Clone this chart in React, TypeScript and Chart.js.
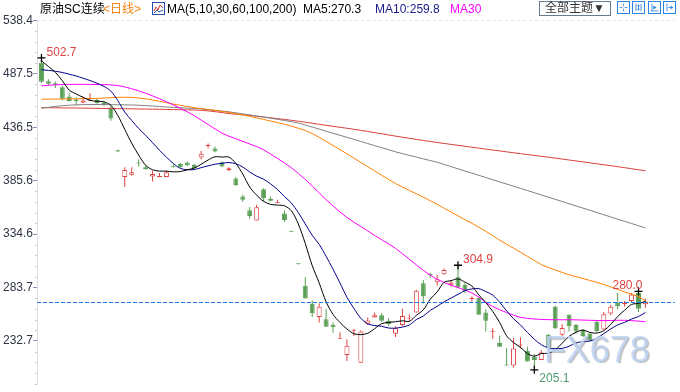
import React, { useEffect, useRef } from 'react';
import { Chart, registerables } from 'chart.js';

Chart.register(...registerables);

// ---- data ----
const opens = [498, 480.5, 478.5, 474.6, 466, 463, 460, 461.8, 462.5, 460,
  455.3, 414.5, 389, 391.3, 403, 398.5, 389.5, 389, 389, 398.6,
  401.5, 403, 400.5, 407.6, 418.6, 416.3, 403.2, 395.5, 387.6, 370.5,
  357.4, 347.7, 377.3, 368.4, 364, 354.3, 337.2, 306.3, 285.3, 268.2,
  255.5, 253.5, 248.2, 234.8, 219.2, 242.5, 212, 249, 255.1, 257.3,
  252, 239.5, 247.9, 254.2, 259.8, 287.8, 296, 288.8, 296.3, 286.3,
  293.5, 286.3, 272.7, 273.8, 259.8, 241.5, 230.8, 209.6, 209.3, 228.4,
  223.3, 217.7, 214.5, 238.6, 265.4, 238.6, 257.6, 247.9, 243.2, 239.5,
  251.1, 243.5, 258.8, 269.1, 268, 270.7, 278.5, 267.6];
const highs = [502.7, 482.4, 480.2, 476.2, 469, 465.2, 466, 469, 463.5, 461,
  456.5, 415, 398.3, 398.3, 406, 400, 395, 393, 395, 401.3,
  402.5, 404, 401.5, 413.8, 421, 418.2, 404.1, 398.5, 389.2, 372.1,
  360.5, 362.7, 378.3, 370.5, 367.4, 357.4, 337.5, 306.6, 293.5, 271.3,
  268.5, 263, 250.4, 241, 234.2, 244.2, 242.6, 255.1, 259.8, 259.1,
  254.4, 246.7, 263.5, 258.2, 281.6, 290.9, 297.8, 295.6, 301.8, 290.9,
  304.9, 287.8, 275.3, 274, 262.9, 244.8, 238, 226, 235.4, 236.3,
  227.1, 220.5, 223.9, 239.5, 266.6, 248.8, 258.2, 248.8, 244.2, 240.4,
  252.6, 260.4, 266.9, 278.5, 270.7, 278.5, 280, 272.9];
const lows = [478.7, 476.2, 474, 462.1, 461, 457.5, 460, 461.5, 459, 456.5,
  442.8, 413, 379.5, 390.4, 399.2, 396, 384.8, 388.8, 388.9, 398.2,
  398, 399.6, 397, 406, 416.6, 412.6, 398.5, 394.5, 380.8, 365.2,
  349.3, 347.5, 365.8, 365.8, 364, 346.1, 336.5, 305.6, 273, 255.5,
  250.4, 246, 240.4, 234.6, 213.6, 237.3, 212, 247.9, 255, 251.1,
  246.7, 236.4, 246.7, 251.9, 259.6, 268.5, 292.5, 285.6, 296, 284.6,
  283.5, 278.5, 270.1, 257.6, 241.7, 234.8, 227, 209, 207.4, 225.4,
  213, 205.1, 214.3, 225.5, 244.2, 237.3, 241.7, 239.5, 236.4, 232.6,
  241.1, 243.3, 257.3, 262.9, 265.4, 269.7, 260.4, 264.4];
const closes = [480, 478, 477, 463.7, 461.5, 461.5, 462, 462.3, 459.6, 458.5,
  445, 413.5, 395.7, 393.6, 402, 396.7, 392, 389.3, 393.6, 398.3,
  398.3, 400.4, 397.6, 411.3, 419, 413.5, 399.2, 397.5, 381.4, 367.4,
  351.8, 360.2, 368.9, 366.5, 364.3, 348, 336.8, 305.9, 273.2, 259.1,
  265.4, 246.3, 245.8, 235, 228, 242.8, 241.7, 252.3, 257.3, 252,
  248.8, 244.8, 256.6, 254.6, 280.5, 275.3, 295.5, 291.5, 300.3, 288.4,
  283.7, 280.1, 273.1, 257.6, 252, 241.9, 227.1, 209.3, 225.4, 228.8,
  213, 214.5, 221.7, 226.5, 244.8, 245.1, 246.7, 241.7, 237.3, 233.2,
  242.1, 258.2, 265.4, 265.9, 268.4, 276.9, 263.5, 270.3];

const ma5 = [500.0, 494.5, 489.0, 481.0, 472.0, 468.3, 465.1, 462.2, 461.4, 460.8,
  457.5, 447.8, 434.5, 421.3, 410.0, 400.3, 396.0, 394.7, 394.7, 394.0,
  394.3, 396.0, 397.6, 401.2, 405.3, 408.4, 408.1, 408.1, 402.1, 391.8,
  379.5, 371.7, 365.9, 363.0, 362.3, 361.6, 356.9, 344.3, 325.6, 304.6,
  288.1, 270.0, 258.0, 250.3, 244.1, 239.6, 238.7, 240.0, 244.4, 249.2,
  250.4, 251.0, 251.9, 251.4, 257.1, 262.4, 272.5, 279.5, 288.6, 290.2,
  291.9, 288.8, 285.1, 276.6, 269.3, 260.9, 250.3, 237.6, 231.1, 226.5,
  220.7, 218.2, 220.7, 220.9, 224.1, 230.5, 237.0, 241.0, 243.1, 240.8,
  240.2, 242.5, 248.5, 256.0, 262.0, 267.5, 268.5, 270.3];
const ma10 = [491.4, 490.8, 490.0, 488.8, 487.2, 485.5, 483.3, 481.1, 478.5, 475.5,
  471.0, 462.0, 451.0, 443.0, 435.4, 428.9, 421.9, 414.6, 408.0, 402.0,
  397.3, 396.0, 396.2, 398.0, 399.7, 401.3, 402.1, 402.9, 401.7, 398.6,
  393.9, 389.9, 387.0, 382.5, 377.1, 370.5, 364.3, 355.1, 344.3, 333.5,
  324.8, 313.4, 301.1, 288.0, 274.4, 263.8, 254.3, 249.0, 247.4, 246.7,
  245.0, 244.9, 245.9, 247.9, 253.1, 256.4, 261.8, 265.7, 270.0, 273.6,
  277.1, 280.7, 282.3, 282.6, 279.8, 276.4, 269.6, 261.4, 253.9, 247.9,
  240.8, 234.3, 229.1, 226.0, 225.3, 225.6, 227.6, 230.8, 232.0, 232.5,
  235.4, 239.7, 244.1, 248.0, 250.4, 253.6, 256.0, 259.8];
const ma30 = [476.0, 476.6, 477.0, 477.3, 477.4, 477.5, 477.5, 477.4, 477.3, 477.2,
  477.0, 476.3, 475.0, 473.3, 471.3, 469.0, 466.5, 463.8, 460.8, 457.8,
  454.6, 451.3, 447.7, 443.4, 439.2, 435.0, 431.0, 428.0, 425.6, 423.1,
  420.6, 418.1, 415.0, 411.0, 406.8, 402.5, 398.0, 392.5, 386.8, 380.5,
  373.9, 367.5, 361.5, 355.8, 350.5, 346.0, 341.8, 337.6, 333.3, 329.3,
  325.3, 321.0, 315.9, 310.6, 305.3, 300.0, 295.4, 291.5, 288.5, 285.8,
  283.6, 281.2, 278.5, 274.5, 269.5, 265.5, 262.5, 259.8, 257.3, 255.2,
  254.2, 253.6, 253.2, 253.0, 252.9, 252.9, 252.9, 252.8, 252.6, 252.4,
  252.2, 252.1, 252.2, 252.4, 252.4, 252.1, 251.6, 251.0];
const ma60 = [463.3, 463.4, 463.4, 463.5, 463.6, 463.7, 463.8, 463.9, 464.1, 464.4,
  464.8, 465.1, 465.2, 465.1, 464.5, 463.7, 462.5, 461.3, 460.0, 458.7,
  457.5, 456.3, 455.2, 454.4, 453.5, 452.7, 451.8, 450.6, 449.4, 448.2,
  447.0, 445.5, 444.0, 442.5, 441.0, 439.4, 437.6, 435.6, 433.5, 430.6,
  426.9, 423.1, 419.2, 415.2, 411.2, 407.2, 403.0, 398.9, 394.9, 390.8,
  386.8, 382.9, 379.6, 376.3, 373.1, 369.9, 366.5, 363.1, 359.3, 355.6,
  352.0, 348.4, 344.9, 341.2, 337.3, 333.2, 328.9, 325.0, 321.2, 317.3,
  313.4, 309.4, 305.5, 302.8, 300.4, 298.1, 295.8, 294.0, 292.2, 290.4,
  288.6, 286.5, 284.2, 281.8, 279.5, 277.3, 275.0, 271.0];
const ma100 = [454.7, 455.6, 456.4, 457.1, 457.6, 457.9, 458.1, 458.2, 458.2, 458.2,
  458.1, 458.0, 457.9, 457.8, 457.6, 457.2, 456.8, 456.3, 455.9, 455.5,
  455.1, 454.8, 454.5, 454.1, 453.3, 452.6, 452.0, 451.3, 450.3, 449.3,
  448.3, 447.3, 446.3, 445.2, 444.1, 443.0, 441.9, 440.6, 438.7, 436.7,
  434.8, 432.8, 430.8, 428.9, 426.9, 425.0, 423.0, 421.0, 419.0, 417.1,
  415.1, 413.1, 411.4, 409.7, 408.1, 406.4, 404.8, 403.2, 401.1, 399.0,
  396.9, 394.8, 392.8, 390.7, 388.6, 386.5, 384.4, 382.4, 380.3, 378.2,
  376.2, 374.1, 372.0, 369.9, 367.8, 365.7, 363.6, 361.5, 359.4, 357.3,
  355.2, 353.1, 351.0, 348.9, 346.8, 344.7, 342.6, 340.5];
const ma200 = [455.3, 455.2, 455.1, 455.0, 455.0, 454.9, 454.8, 454.7, 454.6, 454.5,
  454.4, 454.3, 454.2, 454.1, 454.0, 453.9, 453.8, 453.7, 453.5, 453.4,
  453.3, 453.1, 453.0, 452.8, 452.2, 451.4, 450.6, 449.6, 449.0, 448.4,
  447.8, 447.1, 446.3, 445.6, 444.8, 444.0, 443.2, 442.3, 441.4, 440.4,
  439.4, 438.4, 437.4, 436.5, 435.6, 434.6, 433.6, 432.5, 431.4, 430.3,
  429.2, 428.1, 427.0, 426.0, 425.0, 424.0, 423.0, 422.0, 421.1, 420.2,
  419.3, 418.4, 417.5, 416.6, 415.7, 414.8, 414.0, 413.1, 412.2, 411.4,
  410.5, 409.7, 408.8, 408.0, 407.1, 406.2, 405.3, 404.4, 403.5, 402.6,
  401.7, 400.8, 399.9, 398.9, 398.0, 397.0, 396.0, 395.0];

const yTicks = [232.7, 283.7, 334.6, 385.6, 436.5, 487.5, 538.4];
const extremeIndex = [0, 60, 86, 71];
const extremeValue = [502.7, 304.9, 280.0, 205.1];
const extremeKind = ['high', 'high', 'high', 'low'];

const maNames = ['MA5', 'MA10', 'MA30', 'MA60', 'MA100', 'MA200'];
const watermark = 'FX678';

// ---- styling ----
const RED = '#df4343';
const GREEN = '#5b9f57';
const FONT = "'Liberation Sans', Arial, 'Noto Sans CJK SC', sans-serif";
const Y_MIN = 190.85;
const Y_MAX = 538.87;
const X_MIN = -0.642857;
const X_MAX = 91.2143;

const decor = {
  id: 'decor',
  beforeDatasetsDraw(chart: any) {
    const { ctx, chartArea, scales } = chart;
    const y = scales.y;
    ctx.save();
    ctx.lineWidth = 1;
    ctx.strokeStyle = '#e4e4e4';
    ctx.setLineDash([3, 3]);
    const ty = Math.round(y.getPixelForValue(yTicks[yTicks.length - 1])) + 0.5;
    ctx.beginPath();
    ctx.moveTo(chartArea.left, ty);
    ctx.lineTo(chartArea.right, ty);
    ctx.stroke();
    ctx.setLineDash([]);
    ctx.strokeStyle = '#c9c9c9';
    const step = (yTicks[1] - yTicks[0]) / 5;
    for (let k = -10; k < 40; k++) {
      const v = yTicks[0] + k * step;
      if (k % 5 === 0 || v < y.min || v > y.max) continue;
      const py = Math.round(y.getPixelForValue(v)) + 0.5;
      ctx.beginPath();
      ctx.moveTo(chartArea.left - 2, py);
      ctx.lineTo(chartArea.left, py);
      ctx.stroke();
    }
    ctx.restore();
  },
  afterDatasetsDraw(chart: any) {
    const { ctx, chartArea, scales } = chart;
    const x = scales.x;
    const y = scales.y;
    ctx.save();
    const last = closes[closes.length - 1];
    const ly = Math.round(y.getPixelForValue(last)) + 0.5;
    ctx.strokeStyle = '#1c78e4';
    ctx.lineWidth = 1;
    ctx.setLineDash([4, 2]);
    ctx.beginPath();
    ctx.moveTo(chartArea.left, ly);
    ctx.lineTo(chartArea.right, ly);
    ctx.stroke();
    ctx.setLineDash([]);
    ctx.font = '12px ' + FONT;
    for (let k = 0; k < extremeIndex.length; k++) {
      const px = x.getPixelForValue(extremeIndex[k]);
      const py = y.getPixelForValue(extremeValue[k]);
      const txt = extremeValue[k].toFixed(1);
      ctx.textBaseline = 'alphabetic';
      if (extremeKind[k] === 'high') {
        ctx.fillStyle = RED;
        if (px > chartArea.right - 60) {
          ctx.textAlign = 'right';
          ctx.fillText(txt, px + 4, py - 2);
        } else {
          ctx.textAlign = 'left';
          ctx.fillText(txt, px + 5, py - 2);
        }
      } else {
        ctx.fillStyle = '#4f9a70';
        ctx.textAlign = 'left';
        ctx.fillText(txt, px + 5, py + 12);
      }
    }
    // watermark
    ctx.font = '36px ' + FONT;
    ctx.textAlign = 'left';
    ctx.textBaseline = 'alphabetic';
    ctx.shadowColor = 'rgba(110,110,120,0.55)';
    ctx.shadowOffsetX = 1.5;
    ctx.shadowOffsetY = 1.5;
    ctx.shadowBlur = 1;
    ctx.fillStyle = 'rgba(190,212,242,0.85)';
    ctx.fillText(watermark, chartArea.right - 131, chartArea.bottom - 23);
    ctx.restore();
  },
};

const iconStyle: React.CSSProperties = {
  position: 'absolute', top: 1, width: 13, height: 13,
  border: '1px solid #2a84e6', boxSizing: 'border-box', background: '#fff',
};

export default function App() {
  const ref = useRef<HTMLCanvasElement>(null);

  useEffect(() => {
    if (!ref.current) return;
    const idx = closes.map((_, i) => i);
    const up = idx.map((i) => closes[i] >= opens[i]);
    const lineColors = ['#000000', '#00008b', '#ff00ff', '#ff8000', '#808080', '#d8403c'];
    const maSeries = [ma5, ma10, ma30, ma60, ma100, ma200];
    const lineSets = maSeries.map((s, k) => ({
      type: 'line' as const,
      label: maNames[k],
      data: s.map((v, i) => ({ x: i, y: v })),
      borderColor: lineColors[k],
      borderWidth: 1,
      pointRadius: 0,
      tension: k < 2 ? 0.3 : 0,
      fill: false,
      order: k + 1,
    }));

    const chart = new Chart(ref.current, {
      type: 'bar',
      data: {
        datasets: [
          {
            type: 'scatter',
            label: 'extremes',
            data: extremeIndex.map((ix, k) => ({ x: ix, y: extremeValue[k] })),
            pointStyle: 'cross',
            pointRadius: 4,
            borderColor: '#000',
            backgroundColor: '#000',
            borderWidth: 1.3,
            order: 0,
          } as any,
          ...lineSets,
          {
            type: 'bar',
            label: 'body',
            data: idx.map((i) => ({ x: i, y: [opens[i], closes[i]] })),
            backgroundColor: up.map((u) => (u ? '#ffffff' : GREEN)),
            borderColor: up.map((u) => (u ? RED : GREEN)),
            borderWidth: 1,
            borderSkipped: false,
            barThickness: 5,
            minBarLength: 1,
            grouped: false,
            inflateAmount: 0,
            order: 10,
          } as any,
          {
            type: 'bar',
            label: 'wick',
            data: idx.map((i) => ({ x: i, y: [lows[i], highs[i]] })),
            backgroundColor: up.map((u) => (u ? RED : GREEN)),
            borderWidth: 0,
            barThickness: 1,
            grouped: false,
            inflateAmount: 0,
            order: 11,
          } as any,
        ],
      },
      options: {
        responsive: false,
        animation: false,
        events: [],
        layout: { padding: { top: 20, left: 0, right: 0, bottom: 0 } },
        plugins: { legend: { display: false }, tooltip: { enabled: false } },
        scales: {
          x: { type: 'linear', min: X_MIN, max: X_MAX, display: false, offset: false, grid: { offset: false } },
          y: {
            type: 'linear',
            min: Y_MIN,
            max: Y_MAX,
            afterBuildTicks: (s: any) => {
              s.ticks = yTicks.map((v) => ({ value: v }));
            },
            afterFit: (s: any) => {
              s.width = 37;
            },
            ticks: {
              padding: 0,
              color: '#2f3644',
              font: { family: FONT, size: 12 },
              callback: (v: any) => Number(v).toFixed(1),
            },
            grid: {
              drawOnChartArea: false,
              drawTicks: true,
              tickLength: 4,
              tickColor: '#8797b8',
            },
            border: { display: true, color: '#e0e0e0' },
          },
        },
      } as any,
      plugins: [decor],
    });
    return () => chart.destroy();
  }, []);

  const txt: React.CSSProperties = {
    position: 'absolute', top: 2, fontSize: 12, lineHeight: '14px',
    whiteSpace: 'nowrap', fontFamily: FONT, color: '#000',
  };

  return (
    <div style={{ position: 'absolute', left: 0, top: 0, width: 680, height: 392, background: '#fff', overflow: 'hidden' }}>
      <canvas ref={ref} width={680} height={392} style={{ position: 'absolute', left: 0, top: 0, width: 680, height: 392 }} />
      <span style={{ ...txt, left: 40 }}>原油SC连续</span>
      <span style={{ ...txt, left: 103, color: '#f5820f' }}>&lt;日线&gt;</span>
      <svg style={{ position: 'absolute', left: 152, top: 2 }} width={13} height={13} viewBox="0 0 13 13">
        <rect x={0.5} y={0.5} width={12} height={12} fill="#fff" stroke="#2a4fb0" />
        <polyline points="2,9 4,5 6,8 8,3 11,6" fill="none" stroke="#d83a3a" strokeWidth={1} />
        <polyline points="2,11 5,8 7,10 11,8" fill="none" stroke="#2a4fb0" strokeWidth={1} />
      </svg>
      <span style={{ ...txt, left: 167 }}>MA(5,10,30,60,100,200)</span>
      <span style={{ ...txt, left: 303 }}>{maNames[0]}:{ma5[ma5.length - 1].toFixed(1)}</span>
      <span style={{ ...txt, left: 375, color: '#1a1a8a' }}>{maNames[1]}:{ma10[ma10.length - 1].toFixed(1)}</span>
      <span style={{ ...txt, left: 450, color: '#ff00ff' }}>{maNames[2]}</span>
      <div style={{ position: 'absolute', left: 539, top: 1, width: 72, height: 15, border: '1px solid #6b7b8c', boxSizing: 'border-box', fontSize: 12, lineHeight: '13px', textAlign: 'center', fontFamily: FONT, color: '#333', background: '#fff' }}>全部主题▼</div>
      <svg style={{ ...iconStyle, left: 617 }} viewBox="0 0 13 13">
        <path d="M6.5 2v3M6.5 8v3M2 6.5h3M8 6.5h3" stroke="#2a84e6" strokeWidth={1} />
      </svg>
      <svg style={{ ...iconStyle, left: 632 }} viewBox="0 0 13 13">
        <path d="M3.5 2v9M9.5 2v9M5 4.5h3M5 8.5h3M6.5 3v7" stroke="#2a84e6" strokeWidth={1} fill="none" />
      </svg>
      <svg style={{ ...iconStyle, left: 648 }} viewBox="0 0 13 13">
        <path d="M3.5 2v9M2 10.5h9" stroke="#2a84e6" strokeWidth={1} fill="none" />
        <path d="M5 4l4 2.5-4 2.5z" fill="#2a84e6" />
      </svg>
      <svg style={{ ...iconStyle, left: 663 }} viewBox="0 0 13 13">
        <path d="M3.5 2v9M5 6.5h5" stroke="#2a84e6" strokeWidth={1} fill="none" />
        <path d="M8 4l3 2.5-3 2.5z" fill="#2a84e6" />
      </svg>
    </div>
  );
}
